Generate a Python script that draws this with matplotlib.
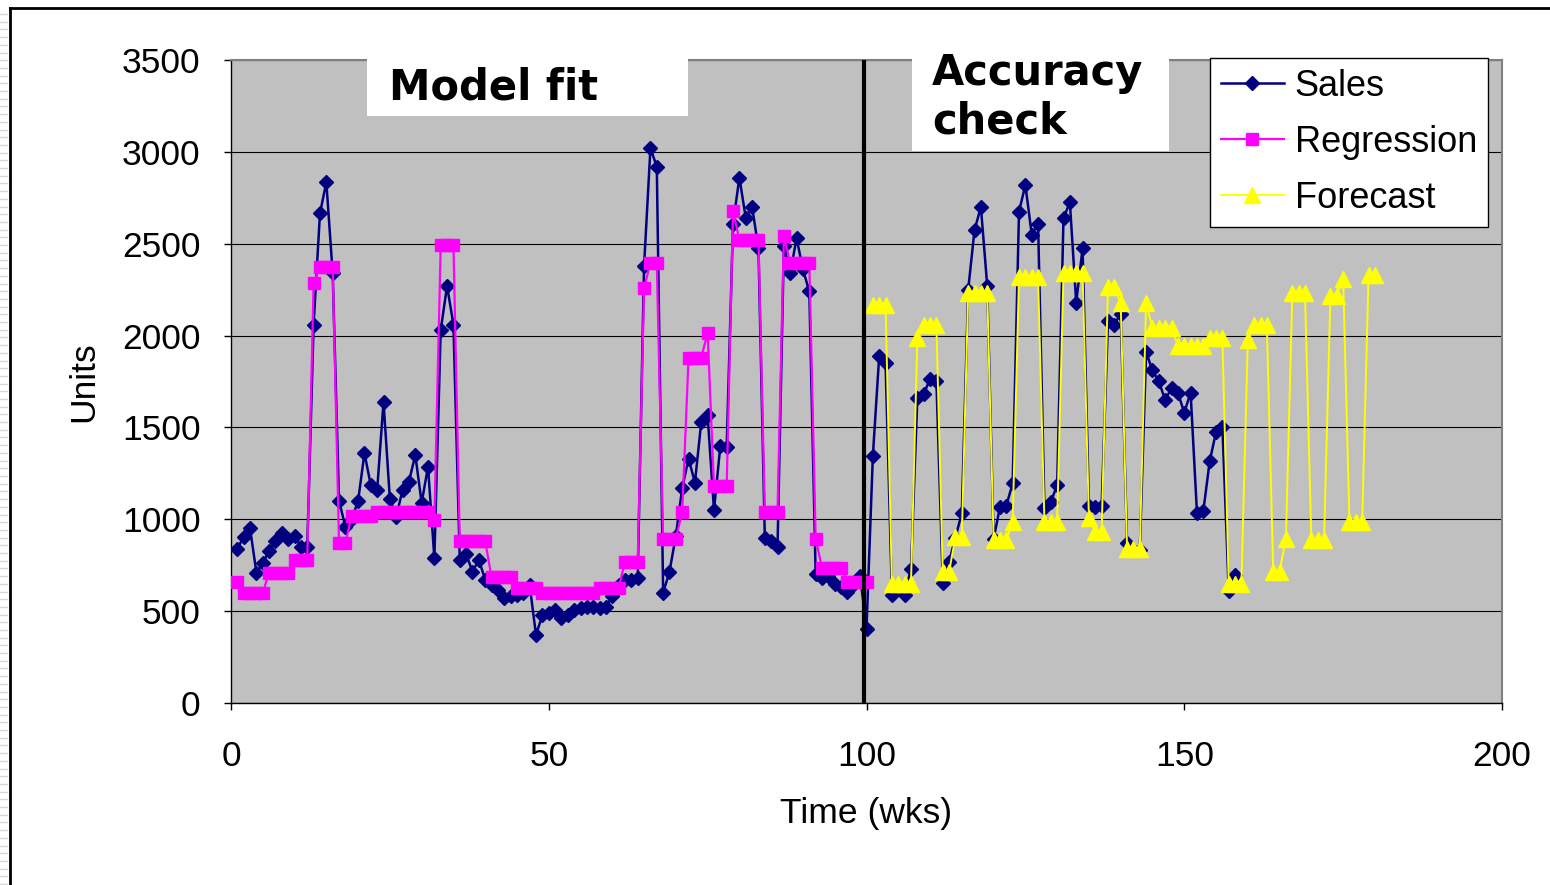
import numpy as np
import matplotlib.pyplot as plt
from matplotlib.patches import Rectangle
from matplotlib.lines import Line2D

plt.rcParams['font.family'] = ['Liberation Sans', 'DejaVu Sans']

# weekly sales, weeks 1-158
sales = [840, 905, 950, 710, 760, 830, 880, 925, 895, 910, 850, 850,
         2060, 2665, 2835, 2340, 1100, 960,
         1000, 1100, 1360, 1185, 1160, 1640,
         1110, 1015, 1160, 1205, 1350, 1090, 1285, 790,
         2030, 2270, 2060,
         780, 810, 715, 780, 670, 640, 615, 570, 580, 590, 600, 640,
         370, 480, 490, 505, 460, 480, 505, 515, 525, 525, 515, 525,
         580, 640, 670, 670, 680,
         2380, 3020, 2920,
         600, 715, 910, 1170, 1330, 1200, 1530, 1565, 1050, 1400, 1395,
         2610, 2860, 2640, 2700, 2475,
         900, 880, 850,
         2490, 2340, 2530, 2360, 2240,
         700, 680, 690, 650, 630, 605, 650, 690, 405,
         1345, 1890, 1850,
         590, 620, 590, 730,
         1660, 1680, 1765, 1750,
         655, 770, 900, 1035,
         2250, 2575, 2700, 2270,
         895, 1065, 1075, 1195,
         2675, 2820, 2550, 2610,
         1060, 1095, 1185,
         2640, 2725, 2180, 2475,
         1075, 1065, 1070,
         2080, 2060, 2120,
         870, 835, 835,
         1910, 1810, 1750, 1650, 1715, 1690, 1580, 1690,
         1035, 1045, 1315, 1475, 1505, 610, 695]

# fitted regression, weeks 1-100
regression = [660, 600, 600, 600, 600, 710, 710, 710, 710, 780, 780, 780,
              2285, 2375, 2375, 2375, 870, 870,
              1020, 1020, 1020, 1020,
              1040, 1040, 1040, 1040, 1040, 1040, 1040, 1040, 1040, 995,
              2495, 2495, 2495,
              880, 880, 880, 880, 880, 685, 685, 685, 685,
              625, 625, 625, 625,
              600, 600, 600, 600, 600, 600, 600, 600, 600,
              625, 625, 625, 625, 770, 770, 770,
              2260, 2395, 2395, 895, 895, 895, 1040,
              1880, 1880, 1880, 2015, 1180, 1180, 1180,
              2680, 2520, 2520, 2520, 2520, 1040, 1040, 1040,
              2540, 2395, 2395, 2395, 2395, 895,
              735, 735, 735, 735, 660, 660, 660, 660]

# forecast, weeks 101-180
forecast = [2165, 2165, 2165, 650, 650, 650, 650,
            1985, 2055, 2055, 2055, 715, 715, 905, 905,
            2230, 2230, 2230, 2230, 887, 887, 887, 985,
            2320, 2320, 2320, 2320, 985, 985, 985,
            2340, 2340, 2340, 2340, 1005, 932, 932,
            2265, 2265, 2175, 840, 840, 840,
            2175, 2040, 2040, 2040, 2040,
            1945, 1945, 1945, 1945, 1945, 1985, 1985, 1985,
            650, 650, 650, 1975, 2055, 2055, 2055, 715, 715, 895,
            2230, 2230, 2230, 887, 887, 887, 2215, 2215, 2310,
            985, 985, 985, 2330, 2330]

sales_weeks = np.arange(1, len(sales) + 1)
reg_weeks = np.arange(1, len(regression) + 1)
fc_weeks = np.arange(101, 101 + len(forecast))

W, H = 1550, 885
fig = plt.figure(figsize=(W / 100, H / 100), dpi=100)
ax = fig.add_axes([231 / W, 1 - 703 / H, 1271 / W, 643 / H])
ax.set_facecolor('#C0C0C0')

ax.plot(sales_weeks, sales, color='#000080', lw=1.8, marker='D', ms=7.4,
        zorder=3, label='Sales')
ax.plot(reg_weeks, regression, color='#FF00FF', lw=1.6, marker='s', ms=9,
        zorder=4, label='Regression')
ax.plot(fc_weeks, forecast, color='#FFFF00', lw=1.4, marker='^', ms=11,
        zorder=5, label='Forecast')
ax.axvline(99.6, color='black', lw=3, zorder=6)

ax.set_xlim(0, 200)
ax.set_ylim(0, 3500)
ax.set_xticks([0, 50, 100, 150, 200])
ax.set_yticks(range(0, 3501, 500))
ax.grid(axis='y', color='black', lw=0.8)
ax.set_axisbelow(True)
ax.tick_params(direction='out', length=5, width=1, labelsize=25.5, color='black')
ax.tick_params(axis='y', pad=17)
ax.tick_params(axis='x', pad=22)
for s in ['top', 'right']:
    ax.spines[s].set_color('#808080')
    ax.spines[s].set_linewidth(1.5)
for s in ['left', 'bottom']:
    ax.spines[s].set_color('black')
    ax.spines[s].set_linewidth(1)

ax.set_xlabel('Time (wks)', fontsize=25.5)
ax.xaxis.set_label_coords(0.5, -0.146)
ax.set_ylabel('Units', fontsize=25.5)
ax.yaxis.set_label_coords(-0.103, 0.5)

# white label boxes over the plot area
ax.add_patch(Rectangle((0.107, 0.913), 0.2525, 0.09, transform=ax.transAxes,
                       facecolor='white', edgecolor='none', clip_on=False, zorder=7))
ax.text(0.1243, 0.938, 'Model fit', transform=ax.transAxes, fontsize=30,
        fontweight='bold', family='DejaVu Sans', va='baseline', zorder=8)
ax.add_patch(Rectangle((0.5358, 0.8585), 0.2025, 0.17, transform=ax.transAxes,
                       facecolor='white', edgecolor='none', clip_on=False, zorder=7))
ax.text(0.5515, 0.961, 'Accuracy', transform=ax.transAxes, fontsize=30,
        fontweight='bold', family='DejaVu Sans', va='baseline', zorder=8)
ax.text(0.5515, 0.886, 'check', transform=ax.transAxes, fontsize=30,
        fontweight='bold', family='DejaVu Sans', va='baseline', zorder=8)

leg = ax.legend(loc='upper left', bbox_to_anchor=(0.770, 1.003), fontsize=26,
                frameon=True, fancybox=False, edgecolor='black', framealpha=1,
                handlelength=1.75, handletextpad=0.3, labelspacing=0.58,
                borderpad=0.3, borderaxespad=0, numpoints=1)
leg.get_frame().set_linewidth(1)
leg.set_zorder(9)

# outer frame of the slide
fig.add_artist(Line2D([10 / W, 10 / W], [0, 1 - 8 / H], transform=fig.transFigure,
                      color='black', lw=2))
fig.add_artist(Line2D([10 / W, 1], [1 - 8 / H, 1 - 8 / H], transform=fig.transFigure,
                      color='black', lw=2))
for yy in np.arange(14, H, 7.7):
    fig.add_artist(Line2D([0, 7 / W], [1 - yy / H, 1 - yy / H], transform=fig.transFigure,
                          color='#D8D8D8', lw=1))

fig.savefig('out.png', dpi=100, facecolor='white')
